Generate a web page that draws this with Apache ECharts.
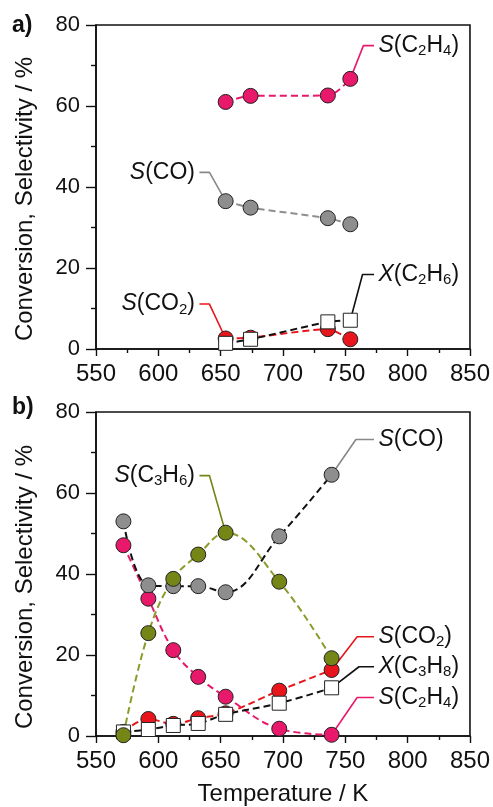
<!DOCTYPE html>
<html><head><meta charset="utf-8">
<script src="https://cdn.jsdelivr.net/npm/echarts@6/dist/echarts.min.js"></script>
<style>html,body{margin:0;padding:0;background:#fff}#c{width:493px;height:807px}</style>
</head><body><div id="c"></div>
<script>
// ---------- data ----------
const xTickLabels = [550, 600, 650, 700, 750, 800, 850];
const yTickLabels = [0, 20, 40, 60, 80];

// panel a (ethane)
const tempA   = [654, 674, 736, 754];
const aSC2H4  = [61.0, 62.5, 62.6, 66.7];
const aSCO    = [36.5, 34.9, 32.3, 30.8];
const aSCO2   = [2.6, 2.8, 4.9, 2.4];
const aXC2H6  = [1.4, 2.4, 6.7, 7.1];

// panel b (propane)
const tempB   = [572, 592, 612, 632, 654, 697, 739];
const bSCO    = [53.0, 37.2, 37.0, 37.0, 35.5, 49.3, 64.5];
const bSC3H6  = [0.2, 25.4, 38.8, 44.8, 50.2, 38.1, 19.2];
const bSC2H4  = [47.1, 33.9, 21.2, 14.6, 9.7, 1.8, 0.3];
const bSCO2   = [1.0, 4.2, 3.0, 4.4, 5.6, 11.2, 16.3];
const bXC3H8  = [1.0, 1.6, 2.6, 3.1, 5.35, 8.1, 11.9];

// callout leader lines (data units) and their labels
const coA_SC2H4 = [[754, 66.7], [764.5, 74.9], [773, 74.9]];
const coA_SCO   = [[633, 43.6], [641, 43.6], [654, 36.5]];
const coA_SCO2  = [[633, 11.1], [641, 11.1], [654, 2.6]];
const coA_X     = [[754, 7.1], [763.8, 18.4], [773, 18.4]];
const coB_SCO   = [[739, 64.5], [758.5, 73.2], [773, 73.2]];
const coB_SC3H6 = [[633, 64.3], [641, 64.3], [654, 50.2]];
const coB_SCO2  = [[739, 16.3], [759.5, 24.5], [773, 24.5]];
const coB_X     = [[739, 11.9], [761, 17.1], [773, 17.1]];
const coB_SC2H4 = [[739, 0.3], [759.5, 9.5], [773, 9.5]];

const txtSC2H4 = '{i|S}{n|(C}{s|2}{n|H}{s|4}{n|)}';
const txtSCO   = '{i|S}{n|(CO)}';
const txtSCO2  = '{i|S}{n|(CO}{s|2}{n|)}';
const txtXC2H6 = '{i|X}{n|(C}{s|2}{n|H}{s|6}{n|)}';
const txtSC3H6 = '{i|S}{n|(C}{s|3}{n|H}{s|6}{n|)}';
const txtXC3H8 = '{i|X}{n|(C}{s|3}{n|H}{s|8}{n|)}';

// ---------- style ----------
const FONT = '"Liberation Sans", Arial, Helvetica, sans-serif';
const C_PINK = '#e8186a', C_RED = '#e8161c', C_GRAY = '#8e8e8e', C_OLIVE = '#758617', C_OLIVE_L = '#8c9a2c';
const rich = {
  i: {fontFamily: FONT, fontSize: 23, fontStyle: 'italic', color: '#111', lineHeight: 26},
  n: {fontFamily: FONT, fontSize: 23, color: '#111', lineHeight: 26},
  s: {fontFamily: FONT, fontSize: 15, color: '#111', lineHeight: 15, verticalAlign: 'bottom'}
};

function pairs(xs, ys) { return xs.map((x, k) => [x, ys[k]]); }

function dataSeries(gi, xs, ys, fill, lineColor, square, smooth) {
  return {
    type: 'line', xAxisIndex: gi, yAxisIndex: gi, z: 3,
    data: pairs(xs, ys), smooth: smooth,
    symbol: square ? 'rect' : 'circle', symbolSize: square ? 14 : 15,
    itemStyle: {color: fill, borderColor: '#222', borderWidth: 1},
    lineStyle: {color: lineColor, width: 2, type: [7, 4]},
    emphasis: {disabled: true}, animation: false
  };
}

function callout(gi, pts, color, text, side) {
  const idx = side === 'left' ? 0 : pts.length - 1;
  return {
    type: 'line', xAxisIndex: gi, yAxisIndex: gi, z: 2,
    data: pts.map((p, k) => k === idx ? {value: p, label: {
      show: true, position: side, distance: 4, formatter: text, rich: rich
    }} : {value: p}),
    symbol: 'circle', symbolSize: 1, showSymbol: true,
    itemStyle: {color: 'rgba(0,0,0,0)'},
    lineStyle: {color: color, width: 1.6, type: 'solid'},
    emphasis: {disabled: true}, animation: false
  };
}

function xAxis(gi, withName) {
  return {
    type: 'value', gridIndex: gi,
    min: xTickLabels[0], max: xTickLabels[xTickLabels.length - 1],
    interval: xTickLabels[1] - xTickLabels[0],
    axisLine: {lineStyle: {color: '#111', width: 1.6}},
    axisTick: {length: 7, lineStyle: {color: '#111', width: 1.4}},
    minorTick: {show: true, splitNumber: 2, length: 4, lineStyle: {color: '#111', width: 1.4}},
    splitLine: {show: false},
    axisLabel: {fontFamily: FONT, fontSize: 24, color: '#111', margin: 13},
    name: withName ? 'Temperature / K' : '', nameLocation: 'middle', nameGap: 46,
    nameTextStyle: {fontFamily: FONT, fontSize: 24, color: '#111'}
  };
}
function yAxis(gi) {
  return {
    type: 'value', gridIndex: gi,
    min: yTickLabels[0], max: yTickLabels[yTickLabels.length - 1],
    interval: yTickLabels[1] - yTickLabels[0],
    axisLine: {show: true, lineStyle: {color: '#111', width: 1.6}},
    axisTick: {show: true, length: 10, lineStyle: {color: '#111', width: 1.4}},
    minorTick: {show: true, splitNumber: 2, length: 5, lineStyle: {color: '#111', width: 1.4}},
    splitLine: {show: false},
    axisLabel: {fontFamily: FONT, fontSize: 22, color: '#111', margin: 16}
  };
}

const chart = echarts.init(document.getElementById('c'), null, {renderer: 'canvas'});
chart.setOption({
  backgroundColor: '#fff',
  animation: false,
  grid: [
    {left: 96, top: 25, width: 375, height: 324, show: true, borderColor: '#111', borderWidth: 1.6, backgroundColor: 'transparent'},
    {left: 96, top: 412, width: 375, height: 325, show: true, borderColor: '#111', borderWidth: 1.6, backgroundColor: 'transparent'}
  ],
  xAxis: [xAxis(0, false), xAxis(1, true)],
  yAxis: [yAxis(0), yAxis(1)],
  graphic: [
    {type: 'text', left: 12, top: 14, style: {text: 'a)', font: 'bold 23px ' + FONT, fill: '#111'}},
    {type: 'text', left: 12, top: 396, style: {text: 'b)', font: 'bold 23px ' + FONT, fill: '#111'}},
    {type: 'text', x: 25, y: 199, rotation: Math.PI / 2,
     style: {text: 'Conversion, Selectivity / %', font: '24px ' + FONT, fill: '#111', align: 'center', verticalAlign: 'middle'}},
    {type: 'text', x: 25, y: 587, rotation: Math.PI / 2,
     style: {text: 'Conversion, Selectivity / %', font: '24px ' + FONT, fill: '#111', align: 'center', verticalAlign: 'middle'}}
  ],
  series: [
    callout(0, coA_SC2H4, C_PINK, txtSC2H4, 'right'),
    callout(0, coA_SCO, '#888', txtSCO, 'left'),
    callout(0, coA_SCO2, C_RED, txtSCO2, 'left'),
    callout(0, coA_X, '#111', txtXC2H6, 'right'),
    callout(1, coB_SCO, '#888', txtSCO, 'right'),
    callout(1, coB_SC3H6, C_OLIVE, txtSC3H6, 'left'),
    callout(1, coB_SCO2, C_RED, txtSCO2, 'right'),
    callout(1, coB_X, '#111', txtXC3H8, 'right'),
    callout(1, coB_SC2H4, C_PINK, txtSC2H4, 'right'),

    dataSeries(0, tempA, aSC2H4, C_PINK, C_PINK, false, 0.3),
    dataSeries(0, tempA, aSCO, C_GRAY, C_GRAY, false, 0.2),
    dataSeries(0, tempA, aSCO2, C_RED, C_RED, false, 0.2),
    dataSeries(0, tempA, aXC2H6, '#fff', '#111', true, 0.2),

    dataSeries(1, tempB, bSC2H4, C_PINK, C_PINK, false, 0.4),
    dataSeries(1, tempB, bSCO2, C_RED, C_RED, false, 0.4),
    dataSeries(1, tempB, bXC3H8, '#fff', '#111', true, 0.4),
    dataSeries(1, tempB, bSCO, C_GRAY, '#111', false, 0.4),
    dataSeries(1, tempB, bSC3H6, C_OLIVE, C_OLIVE_L, false, 0.4)
  ]
});
</script></body></html>
